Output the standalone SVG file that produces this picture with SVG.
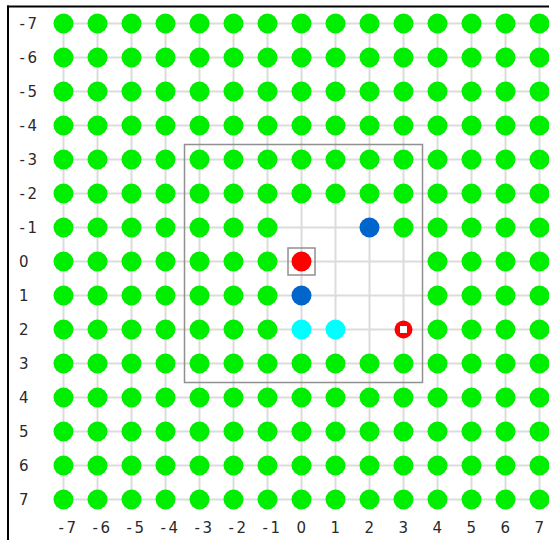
<svg xmlns="http://www.w3.org/2000/svg" width="549" height="540" viewBox="0 0 549 540">
<style>
.grid line{stroke:#dcdcdc;stroke-width:2}
.g{fill:#00ee00}
.b{fill:#0066cc}
.c{fill:#00ffff}
.r{fill:#ff0000}
.lbl{font-family:"DejaVu Sans",Verdana,sans-serif;font-size:15px;fill:#2a2a2a}
.n{letter-spacing:2.5px}
</style>
<rect width="549" height="540" fill="#fff"/>
<g id="frame" stroke="#000" stroke-width="2">
<line x1="7" y1="6.5" x2="549" y2="6.5"/>
<line x1="8" y1="5.5" x2="8" y2="540"/>
</g>
<g id="connectors" class="grid">
<line x1="63.5" y1="23.5" x2="539.5" y2="23.5"/>
<line x1="63.5" y1="57.5" x2="539.5" y2="57.5"/>
<line x1="63.5" y1="91.5" x2="539.5" y2="91.5"/>
<line x1="63.5" y1="125.5" x2="539.5" y2="125.5"/>
<line x1="63.5" y1="159.5" x2="539.5" y2="159.5"/>
<line x1="63.5" y1="193.5" x2="539.5" y2="193.5"/>
<line x1="63.5" y1="227.5" x2="539.5" y2="227.5"/>
<line x1="63.5" y1="261.5" x2="539.5" y2="261.5"/>
<line x1="63.5" y1="295.5" x2="539.5" y2="295.5"/>
<line x1="63.5" y1="329.5" x2="539.5" y2="329.5"/>
<line x1="63.5" y1="363.5" x2="539.5" y2="363.5"/>
<line x1="63.5" y1="397.5" x2="539.5" y2="397.5"/>
<line x1="63.5" y1="431.5" x2="539.5" y2="431.5"/>
<line x1="63.5" y1="465.5" x2="539.5" y2="465.5"/>
<line x1="63.5" y1="499.5" x2="539.5" y2="499.5"/>
<line x1="63.5" y1="23.5" x2="63.5" y2="499.5"/>
<line x1="97.5" y1="23.5" x2="97.5" y2="499.5"/>
<line x1="131.5" y1="23.5" x2="131.5" y2="499.5"/>
<line x1="165.5" y1="23.5" x2="165.5" y2="499.5"/>
<line x1="199.5" y1="23.5" x2="199.5" y2="499.5"/>
<line x1="233.5" y1="23.5" x2="233.5" y2="499.5"/>
<line x1="267.5" y1="23.5" x2="267.5" y2="499.5"/>
<line x1="301.5" y1="23.5" x2="301.5" y2="499.5"/>
<line x1="335.5" y1="23.5" x2="335.5" y2="499.5"/>
<line x1="369.5" y1="23.5" x2="369.5" y2="499.5"/>
<line x1="403.5" y1="23.5" x2="403.5" y2="499.5"/>
<line x1="437.5" y1="23.5" x2="437.5" y2="499.5"/>
<line x1="471.5" y1="23.5" x2="471.5" y2="499.5"/>
<line x1="505.5" y1="23.5" x2="505.5" y2="499.5"/>
<line x1="539.5" y1="23.5" x2="539.5" y2="499.5"/>
</g>
<g id="region" fill="none" stroke="#909090" stroke-width="1.5">
<rect x="184.5" y="144.5" width="238" height="238"/>
<rect x="288" y="248" width="27" height="27"/>
</g>
<g id="nodes">
<g id="row-7" transform="translate(0,23.5)"><circle class="g" cx="63.5" r="10"/><circle class="g" cx="97.5" r="10"/><circle class="g" cx="131.5" r="10"/><circle class="g" cx="165.5" r="10"/><circle class="g" cx="199.5" r="10"/><circle class="g" cx="233.5" r="10"/><circle class="g" cx="267.5" r="10"/><circle class="g" cx="301.5" r="10"/><circle class="g" cx="335.5" r="10"/><circle class="g" cx="369.5" r="10"/><circle class="g" cx="403.5" r="10"/><circle class="g" cx="437.5" r="10"/><circle class="g" cx="471.5" r="10"/><circle class="g" cx="505.5" r="10"/><circle class="g" cx="539.5" r="10"/></g>
<g id="row-6" transform="translate(0,57.5)"><circle class="g" cx="63.5" r="10"/><circle class="g" cx="97.5" r="10"/><circle class="g" cx="131.5" r="10"/><circle class="g" cx="165.5" r="10"/><circle class="g" cx="199.5" r="10"/><circle class="g" cx="233.5" r="10"/><circle class="g" cx="267.5" r="10"/><circle class="g" cx="301.5" r="10"/><circle class="g" cx="335.5" r="10"/><circle class="g" cx="369.5" r="10"/><circle class="g" cx="403.5" r="10"/><circle class="g" cx="437.5" r="10"/><circle class="g" cx="471.5" r="10"/><circle class="g" cx="505.5" r="10"/><circle class="g" cx="539.5" r="10"/></g>
<g id="row-5" transform="translate(0,91.5)"><circle class="g" cx="63.5" r="10"/><circle class="g" cx="97.5" r="10"/><circle class="g" cx="131.5" r="10"/><circle class="g" cx="165.5" r="10"/><circle class="g" cx="199.5" r="10"/><circle class="g" cx="233.5" r="10"/><circle class="g" cx="267.5" r="10"/><circle class="g" cx="301.5" r="10"/><circle class="g" cx="335.5" r="10"/><circle class="g" cx="369.5" r="10"/><circle class="g" cx="403.5" r="10"/><circle class="g" cx="437.5" r="10"/><circle class="g" cx="471.5" r="10"/><circle class="g" cx="505.5" r="10"/><circle class="g" cx="539.5" r="10"/></g>
<g id="row-4" transform="translate(0,125.5)"><circle class="g" cx="63.5" r="10"/><circle class="g" cx="97.5" r="10"/><circle class="g" cx="131.5" r="10"/><circle class="g" cx="165.5" r="10"/><circle class="g" cx="199.5" r="10"/><circle class="g" cx="233.5" r="10"/><circle class="g" cx="267.5" r="10"/><circle class="g" cx="301.5" r="10"/><circle class="g" cx="335.5" r="10"/><circle class="g" cx="369.5" r="10"/><circle class="g" cx="403.5" r="10"/><circle class="g" cx="437.5" r="10"/><circle class="g" cx="471.5" r="10"/><circle class="g" cx="505.5" r="10"/><circle class="g" cx="539.5" r="10"/></g>
<g id="row-3" transform="translate(0,159.5)"><circle class="g" cx="63.5" r="10"/><circle class="g" cx="97.5" r="10"/><circle class="g" cx="131.5" r="10"/><circle class="g" cx="165.5" r="10"/><circle class="g" cx="199.5" r="10"/><circle class="g" cx="233.5" r="10"/><circle class="g" cx="267.5" r="10"/><circle class="g" cx="301.5" r="10"/><circle class="g" cx="335.5" r="10"/><circle class="g" cx="369.5" r="10"/><circle class="g" cx="403.5" r="10"/><circle class="g" cx="437.5" r="10"/><circle class="g" cx="471.5" r="10"/><circle class="g" cx="505.5" r="10"/><circle class="g" cx="539.5" r="10"/></g>
<g id="row-2" transform="translate(0,193.5)"><circle class="g" cx="63.5" r="10"/><circle class="g" cx="97.5" r="10"/><circle class="g" cx="131.5" r="10"/><circle class="g" cx="165.5" r="10"/><circle class="g" cx="199.5" r="10"/><circle class="g" cx="233.5" r="10"/><circle class="g" cx="267.5" r="10"/><circle class="g" cx="301.5" r="10"/><circle class="g" cx="335.5" r="10"/><circle class="g" cx="369.5" r="10"/><circle class="g" cx="403.5" r="10"/><circle class="g" cx="437.5" r="10"/><circle class="g" cx="471.5" r="10"/><circle class="g" cx="505.5" r="10"/><circle class="g" cx="539.5" r="10"/></g>
<g id="row-1" transform="translate(0,227.5)"><circle class="g" cx="63.5" r="10"/><circle class="g" cx="97.5" r="10"/><circle class="g" cx="131.5" r="10"/><circle class="g" cx="165.5" r="10"/><circle class="g" cx="199.5" r="10"/><circle class="g" cx="233.5" r="10"/><circle class="g" cx="267.5" r="10"/><circle id="node-2_-1" class="b" cx="369.5" r="10"/><circle class="g" cx="403.5" r="10"/><circle class="g" cx="437.5" r="10"/><circle class="g" cx="471.5" r="10"/><circle class="g" cx="505.5" r="10"/><circle class="g" cx="539.5" r="10"/></g>
<g id="row0" transform="translate(0,261.5)"><circle class="g" cx="63.5" r="10"/><circle class="g" cx="97.5" r="10"/><circle class="g" cx="131.5" r="10"/><circle class="g" cx="165.5" r="10"/><circle class="g" cx="199.5" r="10"/><circle class="g" cx="233.5" r="10"/><circle class="g" cx="267.5" r="10"/><circle id="node-0_0" class="r" cx="301.5" r="10"/><circle class="g" cx="437.5" r="10"/><circle class="g" cx="471.5" r="10"/><circle class="g" cx="505.5" r="10"/><circle class="g" cx="539.5" r="10"/></g>
<g id="row1" transform="translate(0,295.5)"><circle class="g" cx="63.5" r="10"/><circle class="g" cx="97.5" r="10"/><circle class="g" cx="131.5" r="10"/><circle class="g" cx="165.5" r="10"/><circle class="g" cx="199.5" r="10"/><circle class="g" cx="233.5" r="10"/><circle class="g" cx="267.5" r="10"/><circle id="node-0_1" class="b" cx="301.5" r="10"/><circle class="g" cx="437.5" r="10"/><circle class="g" cx="471.5" r="10"/><circle class="g" cx="505.5" r="10"/><circle class="g" cx="539.5" r="10"/></g>
<g id="row2" transform="translate(0,329.5)"><circle class="g" cx="63.5" r="10"/><circle class="g" cx="97.5" r="10"/><circle class="g" cx="131.5" r="10"/><circle class="g" cx="165.5" r="10"/><circle class="g" cx="199.5" r="10"/><circle class="g" cx="233.5" r="10"/><circle class="g" cx="267.5" r="10"/><circle id="node-0_2" class="c" cx="301.5" r="10"/><circle id="node-1_2" class="c" cx="335.5" r="10"/><g id="node-3_2"><circle class="r" cx="403.5" r="9"/><rect x="400" y="-3.5" width="7" height="7" fill="#fff"/></g><circle class="g" cx="437.5" r="10"/><circle class="g" cx="471.5" r="10"/><circle class="g" cx="505.5" r="10"/><circle class="g" cx="539.5" r="10"/></g>
<g id="row3" transform="translate(0,363.5)"><circle class="g" cx="63.5" r="10"/><circle class="g" cx="97.5" r="10"/><circle class="g" cx="131.5" r="10"/><circle class="g" cx="165.5" r="10"/><circle class="g" cx="199.5" r="10"/><circle class="g" cx="233.5" r="10"/><circle class="g" cx="267.5" r="10"/><circle class="g" cx="301.5" r="10"/><circle class="g" cx="335.5" r="10"/><circle class="g" cx="369.5" r="10"/><circle class="g" cx="403.5" r="10"/><circle class="g" cx="437.5" r="10"/><circle class="g" cx="471.5" r="10"/><circle class="g" cx="505.5" r="10"/><circle class="g" cx="539.5" r="10"/></g>
<g id="row4" transform="translate(0,397.5)"><circle class="g" cx="63.5" r="10"/><circle class="g" cx="97.5" r="10"/><circle class="g" cx="131.5" r="10"/><circle class="g" cx="165.5" r="10"/><circle class="g" cx="199.5" r="10"/><circle class="g" cx="233.5" r="10"/><circle class="g" cx="267.5" r="10"/><circle class="g" cx="301.5" r="10"/><circle class="g" cx="335.5" r="10"/><circle class="g" cx="369.5" r="10"/><circle class="g" cx="403.5" r="10"/><circle class="g" cx="437.5" r="10"/><circle class="g" cx="471.5" r="10"/><circle class="g" cx="505.5" r="10"/><circle class="g" cx="539.5" r="10"/></g>
<g id="row5" transform="translate(0,431.5)"><circle class="g" cx="63.5" r="10"/><circle class="g" cx="97.5" r="10"/><circle class="g" cx="131.5" r="10"/><circle class="g" cx="165.5" r="10"/><circle class="g" cx="199.5" r="10"/><circle class="g" cx="233.5" r="10"/><circle class="g" cx="267.5" r="10"/><circle class="g" cx="301.5" r="10"/><circle class="g" cx="335.5" r="10"/><circle class="g" cx="369.5" r="10"/><circle class="g" cx="403.5" r="10"/><circle class="g" cx="437.5" r="10"/><circle class="g" cx="471.5" r="10"/><circle class="g" cx="505.5" r="10"/><circle class="g" cx="539.5" r="10"/></g>
<g id="row6" transform="translate(0,465.5)"><circle class="g" cx="63.5" r="10"/><circle class="g" cx="97.5" r="10"/><circle class="g" cx="131.5" r="10"/><circle class="g" cx="165.5" r="10"/><circle class="g" cx="199.5" r="10"/><circle class="g" cx="233.5" r="10"/><circle class="g" cx="267.5" r="10"/><circle class="g" cx="301.5" r="10"/><circle class="g" cx="335.5" r="10"/><circle class="g" cx="369.5" r="10"/><circle class="g" cx="403.5" r="10"/><circle class="g" cx="437.5" r="10"/><circle class="g" cx="471.5" r="10"/><circle class="g" cx="505.5" r="10"/><circle class="g" cx="539.5" r="10"/></g>
<g id="row7" transform="translate(0,499.5)"><circle class="g" cx="63.5" r="10"/><circle class="g" cx="97.5" r="10"/><circle class="g" cx="131.5" r="10"/><circle class="g" cx="165.5" r="10"/><circle class="g" cx="199.5" r="10"/><circle class="g" cx="233.5" r="10"/><circle class="g" cx="267.5" r="10"/><circle class="g" cx="301.5" r="10"/><circle class="g" cx="335.5" r="10"/><circle class="g" cx="369.5" r="10"/><circle class="g" cx="403.5" r="10"/><circle class="g" cx="437.5" r="10"/><circle class="g" cx="471.5" r="10"/><circle class="g" cx="505.5" r="10"/><circle class="g" cx="539.5" r="10"/></g>
</g>
<g id="row-labels" class="lbl">
<text class="n" x="19.5" y="29">-7</text>
<text class="n" x="19.5" y="63">-6</text>
<text class="n" x="19.5" y="97">-5</text>
<text class="n" x="19.5" y="131">-4</text>
<text class="n" x="19.5" y="165">-3</text>
<text class="n" x="19.5" y="199">-2</text>
<text class="n" x="19.5" y="233">-1</text>
<text x="19" y="267">0</text>
<text x="19" y="301">1</text>
<text x="19" y="335">2</text>
<text x="19" y="369">3</text>
<text x="19" y="403">4</text>
<text x="19" y="437">5</text>
<text x="19" y="471">6</text>
<text x="19" y="505">7</text>
</g>
<g id="col-labels" class="lbl">
<text class="n" x="58.5" y="533">-7</text>
<text class="n" x="92.5" y="533">-6</text>
<text class="n" x="126.5" y="533">-5</text>
<text class="n" x="160.5" y="533">-4</text>
<text class="n" x="194.5" y="533">-3</text>
<text class="n" x="228.5" y="533">-2</text>
<text class="n" x="262.5" y="533">-1</text>
<text x="296.5" y="533">0</text>
<text x="330.5" y="533">1</text>
<text x="364.5" y="533">2</text>
<text x="398.5" y="533">3</text>
<text x="432.5" y="533">4</text>
<text x="466.5" y="533">5</text>
<text x="500.5" y="533">6</text>
<text x="534.5" y="533">7</text>
</g>
</svg>
